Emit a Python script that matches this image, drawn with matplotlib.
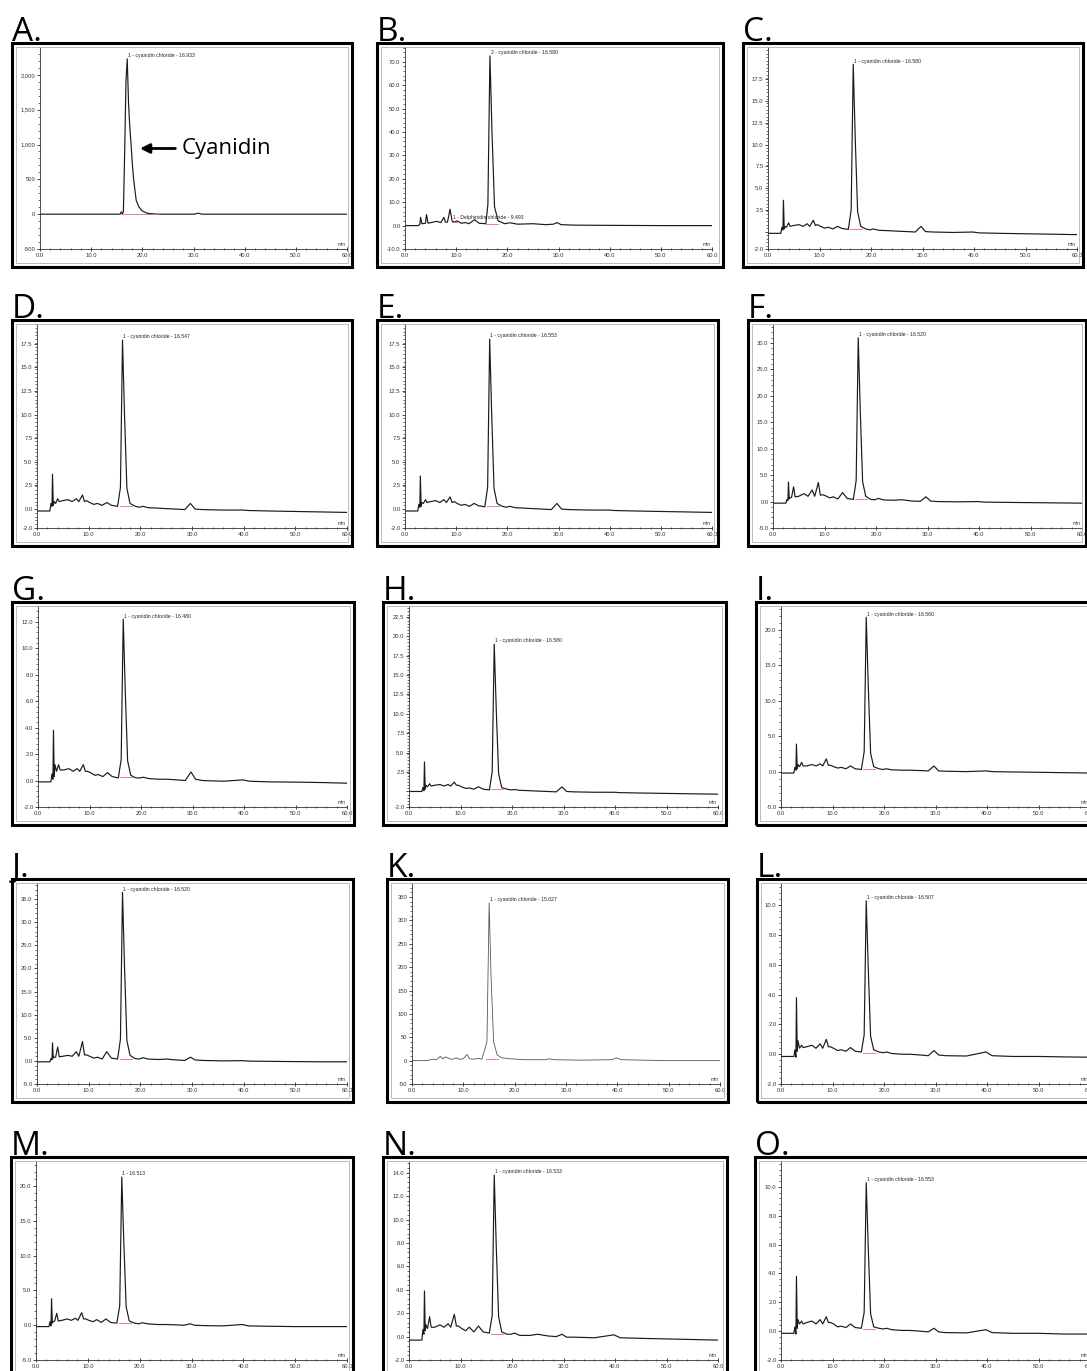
import numpy as np
import matplotlib
matplotlib.use("Agg")
import matplotlib.pyplot as plt
from matplotlib.patches import Rectangle
from matplotlib.ticker import AutoMinorLocator, MultipleLocator

W, H = 1087, 1371

# ---- chromatogram data (retention time in min, signal in mAU) ----
# shared time grid for the extract panels
t_grid = [0.0, 2.5, 2.7, 2.9, 3.0, 3.15, 3.3, 3.6, 4.0, 4.3, 5.0, 6.0, 6.8, 7.6, 8.1, 8.8,
          9.2, 9.6, 10.2, 11.0, 11.7, 12.6, 13.5, 14.4, 15.6, 16.15, 16.55, 16.95, 17.4, 18.0,
          19.0, 19.8, 20.5, 21.5, 23.5, 25.0, 27.0, 28.6, 29.7, 30.6, 32.0, 36.0, 39.8, 41.0,
          45.0, 50.0, 55.0, 60.0]

sig_c = [-0.2, -0.2, 0.5, 0.2, 3.6, 0.3, 0.6, 0.5, 1.0, 0.6, 0.7, 0.8, 0.6, 0.9, 0.6, 1.3,
         0.7, 0.8, 0.6, 0.4, 0.5, 0.3, 0.6, 0.35, 0.25, 2.5, 19.2, 10.5, 2.3, 0.6,
         0.3, 0.2, 0.3, 0.15, 0.1, 0.05, 0.0, -0.05, 0.6, 0.0, -0.05, -0.1, -0.05, -0.15,
         -0.2, -0.25, -0.3, -0.35]
sig_d = [-0.2, -0.2, 0.6, 0.3, 3.7, 0.4, 0.8, 0.6, 1.1, 0.8, 0.9, 1.0, 0.8, 1.1, 0.8, 1.5,
         0.8, 0.9, 0.7, 0.5, 0.6, 0.4, 0.7, 0.4, 0.3, 2.3, 17.9, 9.8, 2.2, 0.6,
         0.3, 0.2, 0.3, 0.15, 0.1, 0.05, 0.0, -0.05, 0.6, 0.0, -0.05, -0.1, -0.1, -0.15,
         -0.2, -0.25, -0.3, -0.35]
sig_e = [-0.2, -0.2, 0.5, 0.2, 3.5, 0.3, 0.7, 0.6, 1.0, 0.7, 0.8, 0.9, 0.7, 1.0, 0.7, 1.3,
         0.7, 0.8, 0.6, 0.4, 0.5, 0.3, 0.6, 0.35, 0.25, 2.3, 18.0, 9.9, 2.2, 0.6,
         0.3, 0.2, 0.3, 0.15, 0.1, 0.05, 0.0, -0.05, 0.6, 0.0, -0.05, -0.1, -0.1, -0.15,
         -0.2, -0.25, -0.3, -0.35]
sig_f = [-0.3, -0.3, 0.4, 0.2, 3.7, 0.5, 0.7, 0.8, 2.8, 0.9, 1.0, 1.5, 1.0, 2.2, 1.0, 3.6,
         1.2, 1.3, 1.1, 0.7, 0.9, 0.5, 1.7, 0.6, 0.4, 4.0, 31.0, 17.0, 3.8, 1.0,
         0.4, 0.35, 0.6, 0.3, 0.25, 0.35, 0.1, 0.05, 0.9, 0.1, 0.0, -0.05, 0.0, -0.1,
         -0.15, -0.2, -0.25, -0.3]
sig_g = [-0.1, -0.1, 0.5, 0.1, 3.8, 0.3, 1.2, 0.7, 1.2, 0.8, 0.8, 0.9, 0.7, 0.9, 0.7, 1.2,
         0.7, 0.7, 0.6, 0.4, 0.45, 0.3, 0.6, 0.3, 0.2, 1.6, 12.2, 6.7, 1.5, 0.4,
         0.2, 0.2, 0.25, 0.15, 0.1, 0.1, 0.05, 0.0, 0.65, 0.1, 0.0, -0.05, 0.05, -0.05,
         -0.1, -0.12, -0.15, -0.2]
sig_h = [0.0, 0.0, 0.5, 0.1, 3.8, 0.3, 0.8, 0.6, 1.0, 0.7, 0.8, 0.9, 0.7, 0.9, 0.7, 1.2,
         0.8, 0.8, 0.6, 0.4, 0.45, 0.3, 0.6, 0.3, 0.2, 2.5, 19.0, 10.4, 2.3, 0.5,
         0.3, 0.2, 0.25, 0.15, 0.1, 0.05, 0.0, -0.05, 0.6, 0.0, -0.05, -0.1, -0.1, -0.15,
         -0.2, -0.25, -0.3, -0.35]
sig_i = [-0.2, -0.2, 0.6, 0.2, 3.9, 0.4, 1.0, 0.7, 1.3, 0.8, 0.8, 1.0, 0.8, 1.1, 0.8, 1.8,
         0.9, 0.9, 0.7, 0.5, 0.6, 0.4, 0.8, 0.4, 0.3, 2.8, 21.8, 12.0, 2.6, 0.7,
         0.4, 0.3, 0.4, 0.25, 0.2, 0.2, 0.15, 0.1, 0.8, 0.1, 0.05, 0.0, 0.1, 0.0,
         -0.05, -0.1, -0.15, -0.2]
sig_j = [-0.2, -0.2, 0.5, 0.2, 3.9, 0.6, 0.8, 0.8, 3.0, 0.9, 1.0, 1.2, 1.0, 2.0, 1.0, 4.2,
         1.3, 1.3, 1.0, 0.6, 0.8, 0.4, 2.0, 0.6, 0.4, 4.7, 36.5, 20.0, 4.4, 1.2,
         0.5, 0.4, 0.7, 0.4, 0.3, 0.4, 0.2, 0.1, 0.8, 0.2, 0.1, 0.0, 0.05, -0.05,
         -0.1, -0.15, -0.2, -0.2]
sig_l = [-0.15, -0.15, 0.3, -0.2, 3.8, 0.2, 0.9, 0.4, 0.6, 0.45, 0.5, 0.6, 0.4, 0.7, 0.4, 1.0,
         0.5, 0.5, 0.4, 0.25, 0.3, 0.2, 0.45, 0.2, 0.15, 1.3, 10.3, 5.7, 1.2, 0.3,
         0.15, 0.1, 0.15, 0.05, 0.0, 0.0, -0.05, -0.1, 0.25, -0.05, -0.1, -0.12, 0.15, -0.1,
         -0.15, -0.15, -0.18, -0.2]
sig_m = [-0.2, -0.2, 0.5, -0.1, 3.8, 0.3, 0.5, 0.6, 1.7, 0.6, 0.7, 0.9, 0.7, 1.0, 0.7, 1.8,
         0.9, 0.9, 0.7, 0.5, 0.8, 0.4, 0.9, 0.4, 0.3, 2.8, 21.3, 11.7, 2.6, 0.6,
         0.3, 0.2, 0.35, 0.2, 0.1, 0.1, 0.05, 0.0, 0.2, 0.0, -0.05, -0.1, 0.1, -0.1,
         -0.15, -0.2, -0.2, -0.2]
sig_n = [-0.3, -0.3, 0.6, 0.2, 3.9, 0.5, 1.0, 0.7, 1.7, 0.8, 0.8, 1.0, 0.8, 1.1, 0.8, 1.9,
         0.9, 0.9, 0.7, 0.5, 0.8, 0.4, 0.9, 0.4, 0.3, 1.8, 13.8, 7.6, 1.7, 0.4,
         0.2, 0.2, 0.3, 0.1, 0.1, 0.2, 0.05, 0.0, 0.2, -0.05, -0.05, -0.1, 0.15, -0.1,
         -0.15, -0.2, -0.25, -0.3]
sig_o = [-0.15, -0.15, 0.3, -0.2, 3.8, 0.2, 0.8, 0.5, 0.7, 0.5, 0.6, 0.7, 0.5, 0.8, 0.5, 1.0,
         0.6, 0.6, 0.5, 0.3, 0.35, 0.25, 0.5, 0.25, 0.2, 1.3, 10.3, 5.7, 1.2, 0.3,
         0.2, 0.15, 0.2, 0.1, 0.05, 0.05, 0.0, -0.05, 0.2, -0.05, -0.1, -0.12, 0.1, -0.1,
         -0.15, -0.15, -0.2, -0.2]

# cyanidin chloride standard
t_a = [0.0, 15.7, 15.9, 16.1, 16.3, 16.55, 16.8, 17.05, 17.3, 17.55, 17.8, 18.05, 18.3,
       18.8, 19.3, 19.9, 21.0, 23.0, 30.2, 30.9, 31.6, 60.0]
sig_a = [0, 0, 35, 0, 40, 900, 1900, 2230, 1600, 1250, 1000, 720, 500,
         200, 110, 50, 12, 0, 0, 15, 0, 0]

# mixed standard (delphinidin + cyanidin)
t_b = [0.0, 2.6, 2.9, 3.05, 3.3, 4.0, 4.2, 4.5, 5.5, 6.2, 7.0, 7.6, 7.9, 8.3, 8.8, 9.2,
       9.6, 10.2, 11.0, 11.8, 12.5, 13.6, 14.5, 15.8, 16.2, 16.6, 17.0, 17.5, 18.2, 19.5,
       20.5, 22.0, 25.0, 27.5, 29.0, 29.7, 30.5, 33.0, 40.0, 50.0, 60.0]
sig_b = [0, 0, 0.5, 3.5, 0.8, 1.0, 4.7, 1.0, 1.5, 1.8, 1.3, 3.5, 1.5, 1.5, 7.0, 2.0,
         1.5, 2.0, 1.0, 1.3, 0.8, 2.5, 1.0, 0.8, 9.0, 72.5, 40.0, 8.0, 2.0, 0.8,
         1.2, 0.6, 0.8, 0.4, 0.6, 1.3, 0.4, 0.2, 0.1, 0, 0]

t_k = [0.0, 3.0, 4.0, 4.8, 5.5, 6.0, 6.6, 7.2, 8.0, 8.6, 9.2, 10.0, 10.7, 11.2, 12.0, 13.0,
       13.6, 14.6, 15.03, 15.4, 15.9, 16.6, 17.5, 19.0, 22.0, 26.0, 26.7, 27.5, 33.0, 39.0,
       39.8, 40.8, 45.0, 50.0, 55.0, 60.0]
sig_k = [0, 0, 3, 2, 9, 4, 8, 4, 3, 6, 3, 4, 13, 4, 3, 5,
         3, 40, 337, 180, 40, 12, 6, 4, 2, 2, 4, 2, 1, 2,
         6, 2, 1, 0, 0, 0]

letters = list("ABCDEFGHIJKLMNO")
traces = [(t_a, sig_a), (t_b, sig_b), (t_grid, sig_c), (t_grid, sig_d), (t_grid, sig_e),
          (t_grid, sig_f), (t_grid, sig_g), (t_grid, sig_h), (t_grid, sig_i), (t_grid, sig_j),
          (t_k, sig_k), (t_grid, sig_l), (t_grid, sig_m), (t_grid, sig_n), (t_grid, sig_o)]

peak_labels = ["1 - cyanidin chloride - 16.933", "2 - cyanidin chloride - 16.580",
               "1 - cyanidin chloride - 16.580", "1 - cyanidin chloride - 16.547",
               "1 - cyanidin chloride - 16.553", "1 - cyanidin chloride - 16.520",
               "1 - cyanidin chloride - 16.480", "1 - cyanidin chloride - 16.580",
               "1 - cyanidin chloride - 16.560", "1 - cyanidin chloride - 16.520",
               "1 - cyanidin chloride - 15.027", "1 - cyanidin chloride - 16.507",
               "1 - 16.513", "1 - cyanidin chloride - 16.533",
               "1 - cyanidin chloride - 16.553"]

y_ticks = [[-500, 0, 500, 1000, 1500, 2000],
           [-10, 0, 10, 20, 30, 40, 50, 60, 70],
           [-2, 0, 2.5, 5, 7.5, 10, 12.5, 15, 17.5],
           [-2, 0, 2.5, 5, 7.5, 10, 12.5, 15, 17.5],
           [-2, 0, 2.5, 5, 7.5, 10, 12.5, 15, 17.5],
           [-5, 0, 5, 10, 15, 20, 25, 30],
           [-2, 0, 2, 4, 6, 8, 10, 12],
           [-2, 0, 2.5, 5, 7.5, 10, 12.5, 15, 17.5, 20, 22.5],
           [-5, 0, 5, 10, 15, 20],
           [-5, 0, 5, 10, 15, 20, 25, 30, 35],
           [-50, 0, 50, 100, 150, 200, 250, 300, 350],
           [-2, 0, 2, 4, 6, 8, 10],
           [-5, 0, 5, 10, 15, 20],
           [-2, 0, 2, 4, 6, 8, 10, 12, 14],
           [-2, 0, 2, 4, 6, 8, 10]]
y_top = [2400, 76.3, 21.2, 19.6, 19.6, 33.6, 13.2, 23.9, 23.4, 38.5, 380, 11.5, 23.6, 15.0, 11.8]
zero_unlabeled = {"C", "H"}

# integration baseline under the main peak (start, end, level)
integ = [(16.0, 23.0, 0.0), (15.9, 18.2, 0.8), (16.0, 18.3, 0.25), (16.0, 18.3, 0.3),
         (16.0, 18.3, 0.3), (16.0, 18.3, 0.5), (16.0, 18.3, 0.25), (16.0, 18.3, 0.3),
         (16.0, 18.3, 0.4), (16.0, 18.3, 0.5), (14.4, 16.8, 3.0), (16.0, 18.3, 0.1),
         (16.0, 18.3, 0.3), (16.0, 18.3, 0.2), (16.0, 18.3, 0.15)]

x_ticks = [0, 10, 20, 30, 40, 50, 60]

# ---- layout in pixels: outer box (left, right, top, bottom) and x-axis span ----
outer = [(12, 352, 43, 267), (377, 723, 43, 267), (743, 1083, 43, 267),
         (12, 352, 320, 546), (377, 718, 320, 546), (748, 1086, 320, 546),
         (12, 354, 602, 825), (383, 726, 602, 825), (756, 1095, 602, 825),
         (12, 353, 879, 1102), (387, 728, 879, 1102), (757, 1095, 879, 1102),
         (11, 353, 1157, 1378), (383, 727, 1157, 1378), (755, 1095, 1157, 1378)]
axis_x = [(40, 347), (405, 712), (768, 1077),
          (37, 347), (405, 712), (773, 1082),
          (38, 347), (409, 718), (781, 1090),
          (37, 347), (412, 720), (781, 1090),
          (36, 347), (409, 718), (781, 1090)]

small_font = "Liberation Sans"


def fx(px):
    return px / W


def fy(py):
    return 1 - py / H


def ytick_text(v, letter):
    if letter == "A":
        return f"{v:,.0f}"
    if letter == "K":
        return f"{v:.0f}"
    if v == 0 and letter in zero_unlabeled:
        return ""
    return f"{v:.1f}"


fig = plt.figure(figsize=(W / 100, H / 100), dpi=100)

for i, letter in enumerate(letters):
    l, r, top, bot = outer[i]
    x0, x60 = axis_x[i]
    ytop, ybot = top + 4, bot - 18
    ax = fig.add_axes([fx(x0), fy(ybot), (x60 - x0) / W, (ybot - ytop) / H])
    ax.patch.set_alpha(0)

    t, s = traces[i]
    lc = "#555555" if letter == "K" else "#1a1a1a"
    ax.plot(t, s, color=lc, lw=0.85 if letter != "K" else 0.6)
    a, b, lev = integ[i]
    ax.plot([a, b], [lev, lev], color="#ee6670", lw=0.6)

    ax.set_xlim(0, 60)
    ax.set_ylim(y_ticks[i][0], y_top[i])

    ax.set_xticks(x_ticks)
    ax.set_xticklabels([f"{v:.1f}" for v in x_ticks], fontsize=4.2, family=small_font,
                       color="#333333")
    ax.set_yticks(y_ticks[i])
    ax.set_yticklabels([ytick_text(v, letter) for v in y_ticks[i]], fontsize=4.2,
                       family=small_font, color="#333333")
    ax.xaxis.set_minor_locator(MultipleLocator(2))
    ax.yaxis.set_minor_locator(AutoMinorLocator(5))
    ax.tick_params(axis="y", which="major", direction="out", length=2.5, width=0.5, pad=0.8)
    ax.tick_params(axis="y", which="minor", direction="out", length=1.2, width=0.4)
    ax.tick_params(axis="x", which="major", direction="inout", length=3, width=0.5, pad=1.5)
    ax.tick_params(axis="x", which="minor", direction="inout", length=1.8, width=0.4)
    for side in ("top", "right"):
        ax.spines[side].set_visible(False)
    for side in ("left", "bottom"):
        ax.spines[side].set_linewidth(0.6)
        ax.spines[side].set_color("#333333")

    # peak label just above the apex
    k = int(np.argmax(s))
    ax.annotate(peak_labels[i], xy=(t[k], s[k]), xytext=(0.5, 0.5), textcoords="offset points",
                ha="left", va="bottom", fontsize=3.7, family=small_font, color="#222222")
    ax.text(0.995, 0.01, "min", transform=ax.transAxes, ha="right", va="bottom",
            fontsize=3.6, family=small_font, color="#333333")

    if letter == "A":
        ax.annotate("", xy=(19.0, 943), xytext=(27.0, 943),
                    arrowprops=dict(arrowstyle="-|>", lw=2.0, color="black",
                                    mutation_scale=14))
        ax.text(27.6, 943, "Cyanidin", ha="left", va="center", fontsize=16,
                family="Open Sans", color="black")
    if letter == "B":
        ax.text(9.3, 3.6, "1 - Delphinidin chloride - 9.493", ha="left", va="center",
                fontsize=3.7, family=small_font, color="#222222")
        ax.plot([9.2, 10.1], [1.6, 1.6], color="#ee6670", lw=0.6)

    # inner light frame and thick outer box
    fig.add_artist(Rectangle((fx(l + 4), fy(bot - 4)), (r - 4 - l - 4) / W, (bot - top - 8) / H,
                             transform=fig.transFigure, fill=False, ec="#b0b0b0", lw=0.6))
    fig.add_artist(Rectangle((fx(l), fy(bot)), (r - l) / W, (bot - top) / H,
                             transform=fig.transFigure, fill=False, ec="black", lw=2.2))
    fig.text(fx(l), fy(top - 2), letter + ".", ha="left", va="baseline", fontsize=24,
             family="Open Sans", color="black")

fig.savefig("out.png", dpi=100)
